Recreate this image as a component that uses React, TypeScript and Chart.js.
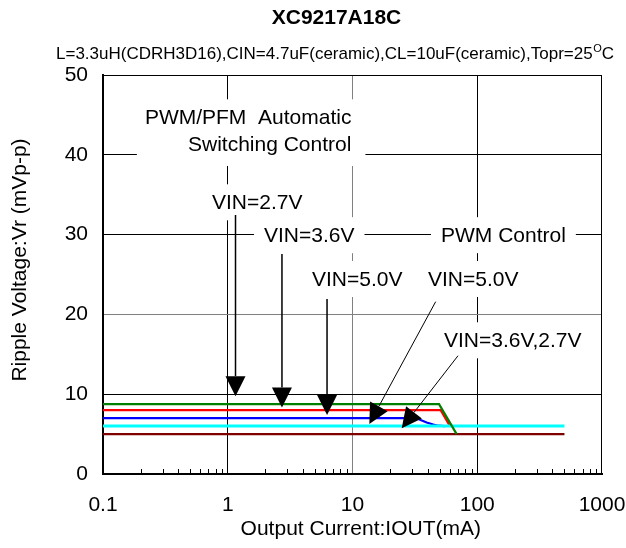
import React, { useEffect, useRef } from "react";
import { Chart, registerables } from "chart.js";

Chart.register(...registerables);

// ---------- texts ----------
const chartTitle = "XC9217A18C";
const subtitleMain = "L=3.3uH(CDRH3D16),CIN=4.7uF(ceramic),CL=10uF(ceramic),Topr=25";
const subtitleSup = "O";
const subtitleEnd = "C";
const xAxisTitle = "Output Current:IOUT(mA)";
const yAxisTitle = "Ripple Voltage:Vr (mVp-p)";

// ---------- axes ----------
const xTickValues = [0.1, 1, 10, 100, 1000];
const xTickLabels = ["0.1", "1", "10", "100", "1000"];
const yTickValues = [0, 10, 20, 30, 40, 50];
const yTickLabels = ["0", "10", "20", "30", "40", "50"];
const minorMultipliers = [2, 3, 4, 5, 6, 7, 8, 9];
const minorDecades = [0.1, 1, 10, 100];

// ---------- series (IOUT mA, Vr mVp-p) ----------
const vin27X = [0.1, 49.4, 68.4];
const vin27Y = [8.75, 8.75, 5.0];
const vin36X = [0.1, 50.9, 60.5];
const vin36Y = [8.0, 8.0, 6.0];
const vin50X = [0.1, 32.7, 34.8, 39.3, 44.4, 48.7, 55];
const vin50Y = [7.0, 7.0, 6.8, 6.45, 6.2, 6.05, 6.0];
const pwm50X = [0.1, 500];
const pwm50Y = [6.0, 6.0];
const pwm3627X = [0.1, 500];
const pwm3627Y = [5.0, 5.0];

// ---------- annotations (data coordinates) ----------
const modeLines = ["PWM/PFM  Automatic", "Switching Control"];
const modeRightX = 9.8;
const modeBaseY = [43.82, 40.48];

const labelTexts = ["VIN=2.7V", "VIN=3.6V", "VIN=5.0V", "PWM Control", "VIN=5.0V", "VIN=3.6V,2.7V"];
const labelX = [0.748, 1.953, 4.735, 51.2, 40.3, 54.1];
const labelY = [33.17, 29.05, 23.56, 29.05, 23.56, 15.88];

const arrowFromX = [1.154, 2.72, 6.25, 46.4, 70.1];
const arrowFromY = [32.46, 27.57, 21.93, 21.59, 14.82];
const arrowToX = [1.154, 2.72, 6.25, 13.64, 24.8];
const arrowToY = [9.75, 8.33, 7.39, 6.27, 5.73];

const FONT = '"Liberation Sans", Arial, Helvetica, sans-serif';

const zip = (xs: number[], ys: number[]) => xs.map((x, i) => ({ x, y: ys[i] }));

function drawArrow(ctx: CanvasRenderingContext2D, x1: number, y1: number, x2: number, y2: number, lw: number) {
  const ang = Math.atan2(y2 - y1, x2 - x1);
  const L = 20;
  const W = 10;
  const bx = x2 - L * Math.cos(ang);
  const by = y2 - L * Math.sin(ang);
  ctx.strokeStyle = "#000";
  ctx.fillStyle = "#000";
  ctx.lineWidth = lw;
  ctx.beginPath();
  ctx.moveTo(x1, y1);
  ctx.lineTo(bx, by);
  ctx.stroke();
  ctx.beginPath();
  ctx.moveTo(x2, y2);
  ctx.lineTo(bx + W * Math.sin(ang), by - W * Math.cos(ang));
  ctx.lineTo(bx - W * Math.sin(ang), by + W * Math.cos(ang));
  ctx.closePath();
  ctx.fill();
}

const decorPlugin = {
  id: "decor",
  afterDraw(chart: any) {
    const ctx: CanvasRenderingContext2D = chart.ctx;
    const xs = chart.scales.x;
    const ys = chart.scales.y;
    const area = chart.chartArea;
    ctx.save();

    // frame top/right
    ctx.strokeStyle = "#000";
    ctx.lineWidth = 1;
    ctx.beginPath();
    ctx.moveTo(area.left, Math.round(area.top) + 0.5);
    ctx.lineTo(area.right, Math.round(area.top) + 0.5);
    ctx.moveTo(Math.round(area.right) - 0.5, area.top);
    ctx.lineTo(Math.round(area.right) - 0.5, area.bottom);
    ctx.stroke();

    // minor ticks on bottom axis
    ctx.beginPath();
    minorDecades.forEach((d) => {
      minorMultipliers.forEach((m) => {
        const px = Math.round(xs.getPixelForValue(d * m)) + 0.5;
        ctx.moveTo(px, area.bottom);
        ctx.lineTo(px, area.bottom - 5);
      });
    });
    ctx.stroke();

    ctx.font = `21px ${FONT}`;
    ctx.textBaseline = "alphabetic";

    // mode text box (two lines, right aligned)
    {
      const rx = xs.getPixelForValue(modeRightX);
      const b0 = ys.getPixelForValue(modeBaseY[0]);
      const b1 = ys.getPixelForValue(modeBaseY[1]);
      const w = Math.max(...modeLines.map((t) => ctx.measureText(t).width));
      ctx.fillStyle = "#fff";
      ctx.fillRect(rx - w - 8, b0 - 15 - 10, w + 8 + 14, b1 - b0 + 15 + 10 + 15);
      ctx.fillStyle = "#000";
      ctx.textAlign = "right";
      ctx.fillText(modeLines[0], rx, b0);
      ctx.fillText(modeLines[1], rx, b1);
    }

    // single labels
    ctx.textAlign = "left";
    labelTexts.forEach((t, i) => {
      const lx = xs.getPixelForValue(labelX[i]);
      const by = ys.getPixelForValue(labelY[i]);
      const w = ctx.measureText(t).width;
      ctx.fillStyle = "#fff";
      ctx.fillRect(lx - 10, by - 15 - 10, w + 20, 15 + 10 + 11);
      ctx.fillStyle = "#000";
      ctx.fillText(t, lx, by);
    });

    // arrows
    arrowFromX.forEach((_, i) => {
      const x1 = xs.getPixelForValue(arrowFromX[i]);
      const y1 = ys.getPixelForValue(arrowFromY[i]);
      const x2 = xs.getPixelForValue(arrowToX[i]);
      const y2 = ys.getPixelForValue(arrowToY[i]);
      drawArrow(ctx, x1, y1, x2, y2, x1 === x2 ? 1.5 : 1);
    });

    // title
    ctx.fillStyle = "#000";
    ctx.textAlign = "center";
    ctx.font = `bold 21px ${FONT}`;
    ctx.fillText(chartTitle, 336.5, 23.5);

    // subtitle with superscript
    ctx.textAlign = "left";
    ctx.font = `17px ${FONT}`;
    let sx = 56;
    ctx.fillText(subtitleMain, sx, 58.5);
    sx += ctx.measureText(subtitleMain).width;
    ctx.font = `11px ${FONT}`;
    ctx.fillText(subtitleSup, sx + 0.5, 52);
    sx += ctx.measureText(subtitleSup).width + 0.5;
    ctx.font = `17px ${FONT}`;
    ctx.fillText(subtitleEnd, sx, 58.5);

    // axis titles
    ctx.font = `21px ${FONT}`;
    ctx.textAlign = "center";
    ctx.fillText(xAxisTitle, 360.8, 534.5);
    ctx.save();
    ctx.translate(26, 260);
    ctx.rotate(-Math.PI / 2);
    ctx.fillText(yAxisTitle, 0, 0);
    ctx.restore();

    ctx.restore();
  },
};

export default function App() {
  const canvasRef = useRef<HTMLCanvasElement | null>(null);

  useEffect(() => {
    document.body.style.margin = "0";
    const canvas = canvasRef.current;
    if (!canvas) return;

    const chart = new Chart(canvas, {
      type: "line",
      data: {
        datasets: [
          { label: "VIN=2.7V", data: zip(vin27X, vin27Y), borderColor: "#008000", borderWidth: 2.2 },
          { label: "VIN=5.0V PWM", data: zip(pwm50X, pwm50Y), borderColor: "#00ffff", borderWidth: 3 },
          { label: "VIN=3.6V", data: zip(vin36X, vin36Y), borderColor: "#ff0000", borderWidth: 2.2 },
          { label: "VIN=5.0V", data: zip(vin50X, vin50Y), borderColor: "#0000ff", borderWidth: 2.2 },
          { label: "VIN=3.6V,2.7V PWM", data: zip(pwm3627X, pwm3627Y), borderColor: "#800000", borderWidth: 2.2 },
        ],
      },
      options: {
        responsive: false,
        animation: false,
        parsing: true,
        layout: { padding: { top: 75, right: 0, left: 0, bottom: 0 } },
        elements: { point: { radius: 0 }, line: { tension: 0 } },
        plugins: {
          legend: { display: false },
          tooltip: { enabled: false },
          title: { display: false },
        },
        scales: {
          x: {
            type: "logarithmic",
            min: 0.1,
            max: 1000,
            afterBuildTicks: (s: any) => {
              s.ticks = xTickValues.map((v) => ({ value: v }));
            },
            afterFit: (s: any) => {
              s.height = 74;
              s.paddingLeft = 0;
              s.paddingRight = 24;
            },
            ticks: {
              autoSkip: false,
              maxRotation: 0,
              color: "#000",
              padding: 19,
              font: { family: FONT, size: 21 },
              callback: (v: any) => {
                const i = xTickValues.indexOf(Number(v));
                return i >= 0 ? xTickLabels[i] : "";
              },
            },
            grid: {
              drawTicks: false,
              lineWidth: 1,
              color: (c: any) => {
                const v = c.tick ? c.tick.value : null;
                if (v === 10) return "#808080";
                if (v === 1 || v === 100) return "#000";
                return "rgba(0,0,0,0)";
              },
            },
            border: { display: true, color: "#000", width: 2 },
          },
          y: {
            type: "linear",
            min: 0,
            max: 50,
            afterBuildTicks: (s: any) => {
              s.ticks = yTickValues.map((v) => ({ value: v }));
            },
            afterFit: (s: any) => {
              s.width = 103;
              s.paddingTop = 0;
              s.paddingBottom = 0;
            },
            ticks: {
              color: "#000",
              padding: 15,
              font: { family: FONT, size: 21 },
              callback: (v: any) => {
                const i = yTickValues.indexOf(Number(v));
                return i >= 0 ? yTickLabels[i] : "";
              },
            },
            grid: {
              drawTicks: false,
              lineWidth: 1,
              color: (c: any) => {
                const v = c.tick ? c.tick.value : null;
                if (v === 20) return "#808080";
                if (v === 10 || v === 30 || v === 40) return "#000";
                return "rgba(0,0,0,0)";
              },
            },
            border: { display: true, color: "#000", width: 2 },
          },
        },
      },
      plugins: [decorPlugin],
    });

    return () => chart.destroy();
  }, []);

  return (
    <div style={{ width: 626, height: 548, background: "#fff" }}>
      <canvas ref={canvasRef} width={626} height={548} />
    </div>
  );
}
